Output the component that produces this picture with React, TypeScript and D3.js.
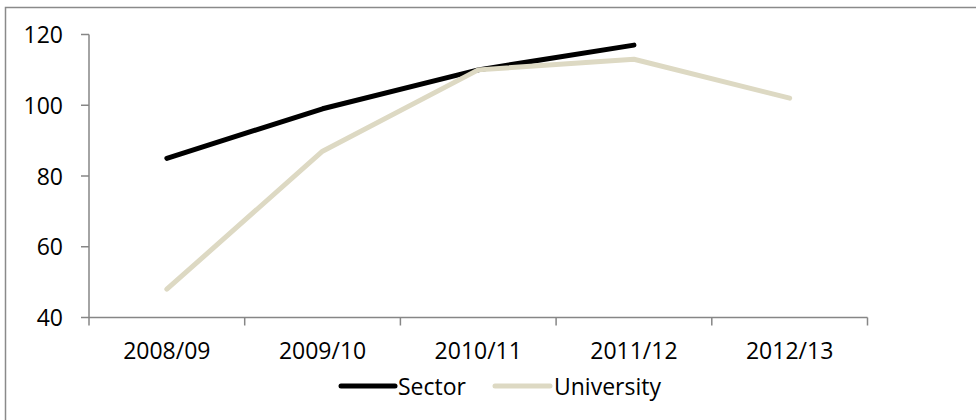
import React from "react";
import * as d3 from "d3";

const categories = ["2008/09", "2009/10", "2010/11", "2011/12", "2012/13"];
const sectorValues: (number | null)[] = [85, 99, 110, 117, null];
const universityValues: (number | null)[] = [48, 87, 110, 113, 102];
const yTicks = [40, 60, 80, 100, 120];

const seriesList = [
  { name: "Sector", values: sectorValues, color: "#000000" },
  { name: "University", values: universityValues, color: "#DDD9C3" },
];

const W = 976;
const H = 420;
const FONT = "'Open Sans', 'Liberation Sans', sans-serif";
const AXIS = "#868686";
const FS = 23;

export default function App() {
  const x = d3.scaleBand<string>().domain(categories).range([89, 867.5]);
  const y = d3.scaleLinear().domain([40, 120]).range([317.5, 34.5]);
  const cx = (c: string) => (x(c) as number) + x.bandwidth() / 2;

  const line = d3
    .line<{ c: string; v: number | null }>()
    .defined((d) => d.v != null)
    .x((d) => cx(d.c))
    .y((d) => y(d.v as number));

  const bounds = [...categories.map((c) => x(c) as number), 867.5];

  const legend = [
    { x1: 341, x2: 395, tx: 398 },
    { x1: 495, x2: 550, tx: 554 },
  ];

  return (
    <svg
      width={W}
      height={H}
      style={{ position: "absolute", left: 0, top: 0, background: "#fff" }}
      fontFamily={FONT}
    >
      <rect x={5.5} y={7.5} width={1000} height={500} fill="#fff" stroke="#8a8a8a" strokeWidth={1.5} />

      {/* y axis */}
      <line x1={89} x2={89} y1={y(120)} y2={y(40)} stroke={AXIS} strokeWidth={1.5} />
      {yTicks.map((t) => (
        <g key={t}>
          <line x1={81} x2={89} y1={y(t)} y2={y(t)} stroke={AXIS} strokeWidth={1.5} />
          <text x={63} y={y(t) + 8.5} textAnchor="end" fontSize={FS} fill="#000">
            {t}
          </text>
        </g>
      ))}

      {/* x axis */}
      <line x1={89} x2={867.5} y1={y(40)} y2={y(40)} stroke={AXIS} strokeWidth={1.5} />
      {bounds.map((b, i) => (
        <line key={i} x1={b} x2={b} y1={y(40)} y2={y(40) + 8} stroke={AXIS} strokeWidth={1.5} />
      ))}
      {categories.map((c) => (
        <text key={c} x={cx(c)} y={358.5} textAnchor="middle" fontSize={FS} fill="#000">
          {c}
        </text>
      ))}

      {/* series: University drawn over Sector */}
      {seriesList.map((s) => (
        <path
          key={s.name}
          d={line(categories.map((c, i) => ({ c, v: s.values[i] }))) || ""}
          fill="none"
          stroke={s.color}
          strokeWidth={5}
          strokeLinecap="round"
          strokeLinejoin="round"
        />
      ))}

      {/* legend */}
      {seriesList.map((s, i) => (
        <g key={s.name}>
          <line
            x1={legend[i].x1}
            x2={legend[i].x2}
            y1={386}
            y2={386}
            stroke={s.color}
            strokeWidth={5}
            strokeLinecap="round"
          />
          <text x={legend[i].tx} y={394.5} fontSize={FS} fill="#000">
            {s.name}
          </text>
        </g>
      ))}
    </svg>
  );
}
